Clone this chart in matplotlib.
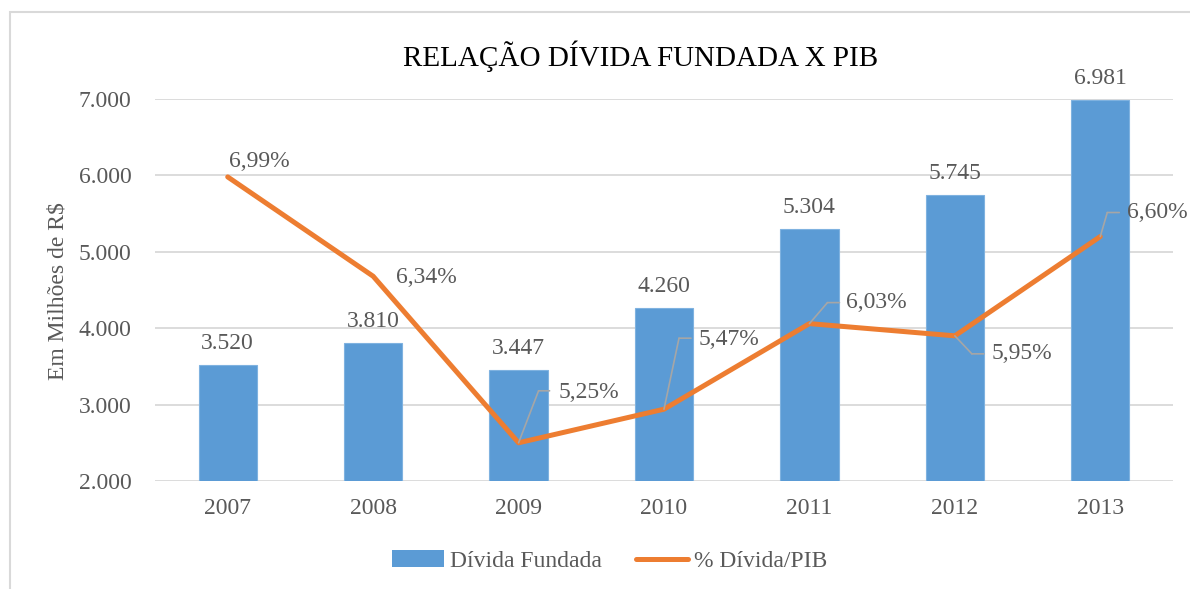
import matplotlib.pyplot as plt
import matplotlib.transforms as mtransforms
from matplotlib.patches import Patch, Rectangle
from matplotlib.lines import Line2D
import numpy as np

plt.rcParams['font.family'] = ['Liberation Serif', 'DejaVu Serif']

anos = ['2007', '2008', '2009', '2010', '2011', '2012', '2013']
divida_fundada = [3520, 3810, 3447, 4260, 5304, 5745, 6981]
divida_pib = [6.99, 6.34, 5.25, 5.47, 6.03, 5.95, 6.60]

# deslocamento (px) dos rótulos de % e das linhas guia (cotovelo, fim)
desloc_rotulo = [(1, 15), (23, -1), (40, 50), (35, 70), (37, 21), (37, -18), (27, 24)]
guias = [None, None,
         ((20, 52), (31, 52)),
         ((15, 71), (27, 71)),
         ((18, 21), (30, 21)),
         ((17, -18), (29, -18)),
         ((7, 24), (19, 24))]

azul = '#5B9BD5'
laranja = '#ED7D31'
cinza_txt = '#595959'
cinza_grade = '#D9D9D9'
tam = 17

fig = plt.figure(figsize=(11.9, 5.89), dpi=100)
ax = fig.add_axes([155 / 1190, 1 - 481 / 589, 1018 / 1190, 382 / 589])

x = np.arange(len(anos))
ax.bar(x, divida_fundada, width=0.4, color=azul, edgecolor='#7FB2E0',
       linewidth=0.8, zorder=2)
ax.set_ylim(2000, 7000)
ax.set_xlim(-0.5, len(anos) - 0.5)
ax.set_yticks(np.arange(2000, 7001, 1000))
ax.set_yticklabels([f"{v:,}".replace(",", ".") for v in np.arange(2000, 7001, 1000)])
ax.set_xticks(x)
ax.set_xticklabels(anos)
ax.tick_params(axis='y', length=0, pad=17, labelsize=tam, labelcolor=cinza_txt)
ax.tick_params(axis='x', length=0, pad=12, labelsize=tam, labelcolor=cinza_txt)
ax.grid(axis='y', color=cinza_grade, linewidth=1.3, zorder=0)
ax.set_axisbelow(True)
for s in ax.spines.values():
    s.set_visible(False)

for xi, v in zip(x, divida_fundada):
    ax.annotate(f"{v:,}".replace(",", "."), (xi, v), xytext=(0, 11),
                textcoords='offset pixels', ha='center', va='bottom',
                fontsize=tam, color=cinza_txt)

# eixo secundário para o percentual (oculto)
ax2 = ax.twinx()
ax2.set_ylim(5.0, 7.5)
ax2.set_xlim(-0.5, len(anos) - 0.5)
ax2.axis('off')
ax2.plot(x, divida_pib, color=laranja, linewidth=3.6, solid_capstyle='round',
         solid_joinstyle='round', zorder=3)

for i, (xi, v) in enumerate(zip(x, divida_pib)):
    dx, dy = desloc_rotulo[i]
    ax2.annotate(f"{v:.2f}".replace(".", ",") + "%", (xi, v), xytext=(dx, dy),
                 textcoords='offset pixels', ha='left', va='center',
                 fontsize=tam, color=cinza_txt)
    if guias[i] is not None:
        (ex, ey), (hx, hy) = guias[i]
        ax2.annotate('', xy=(xi, v), xytext=(ex, ey), textcoords='offset pixels',
                     arrowprops=dict(arrowstyle='-', color='#A6A6A6', lw=1.2,
                                     shrinkA=0, shrinkB=0))
        t = mtransforms.offset_copy(ax2.transData, fig=fig, x=ex, y=ey, units='dots')
        ax2.annotate('', xy=(xi, v), xycoords=t, xytext=(hx - ex, hy - ey),
                     textcoords='offset pixels',
                     arrowprops=dict(arrowstyle='-', color='#A6A6A6', lw=1.2,
                                     shrinkA=0, shrinkB=0))

fig.text(641 / 1190, 1 - 56 / 589, 'RELAÇÃO DÍVIDA FUNDADA X PIB', ha='center',
         va='center', fontsize=21, color='black')
fig.text(58 / 1190, 1 - 291 / 589, 'Em Milhões de R$', rotation=90, ha='center',
         va='center', fontsize=tam, color=cinza_txt)

itens = [Patch(facecolor=azul, edgecolor='none'),
         Line2D([0], [0], color=laranja, linewidth=3.6, solid_capstyle='round')]
fig.legend(itens, ['Dívida Fundada', '% Dívida/PIB'], loc='center',
           bbox_to_anchor=(610 / 1190, 1 - 561 / 589), ncol=2, frameon=False,
           fontsize=tam, labelcolor=cinza_txt, handlelength=2.2, handletextpad=0.25,
           columnspacing=1.45)

# moldura da área do gráfico
fig.patches.append(Rectangle((10 / 1190, -0.1), 1.2, 1.1 - 12 / 589,
                             transform=fig.transFigure, fill=False,
                             edgecolor=cinza_grade, linewidth=1.5))

fig.savefig('out.png', dpi=100)
